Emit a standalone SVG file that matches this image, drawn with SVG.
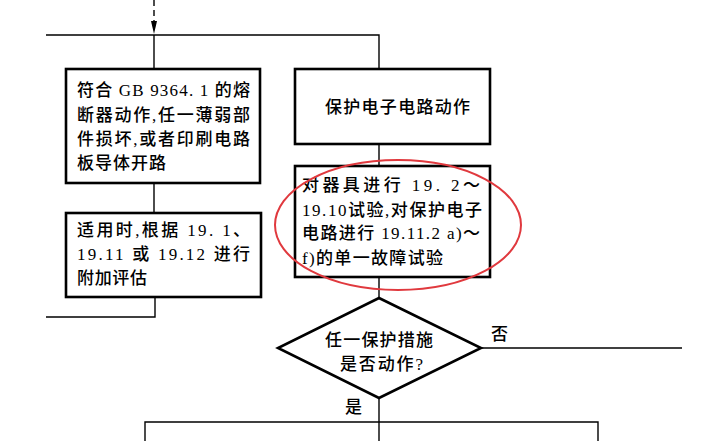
<svg xmlns="http://www.w3.org/2000/svg" width="712" height="441" viewBox="0 0 712 441">
<style>
.box{fill:#fff;stroke:#000;stroke-width:2.6}
.ln{fill:none;stroke:#000;stroke-width:1.4}
text{font-family:"Liberation Serif","Noto Sans CJK SC",serif;font-size:17px;font-weight:500;fill:#000}
</style>
<rect width="712" height="441" fill="#fff"/>
<g id="connectors">
<path class="ln" d="M154 0 V22" stroke-dasharray="6 4"/>
<polygon points="151,21 157,21 154,34" fill="#000"/>
<path class="ln" d="M46 35 H379 V69"/>
<path class="ln" d="M154 35 V69"/>
<path class="ln" d="M154 183 V213"/>
<path class="ln" d="M155 297 V317 H46"/>
<path class="ln" d="M379 144 V166"/>
<path class="ln" d="M379 277 V298"/>
<path class="ln" d="M481 348 H682"/>
<path class="ln" d="M379 398 V441"/>
<path class="ln" d="M145 441 V422 H598 V441"/>
<text x="491" y="340">否</text>
<text x="345" y="413">是</text>
</g>
<g id="fuse">
<rect class="box" x="66" y="69" width="194" height="114"/>
<text x="77" y="96" textLength="173" lengthAdjust="spacing">符合 GB 9364. 1 的熔</text>
<text x="77" y="121" textLength="173" lengthAdjust="spacing">断器动作,任一薄弱部</text>
<text x="77" y="145" textLength="173" lengthAdjust="spacing">件损坏,或者印刷电路</text>
<text x="77" y="169" textLength="89" lengthAdjust="spacing">板导体开路</text>
</g>
<g id="assess">
<rect class="box" x="66" y="213" width="195" height="84"/>
<text x="77" y="236" textLength="173" lengthAdjust="spacing">适用时,根据 19. 1、</text>
<text x="77" y="260" textLength="173" lengthAdjust="spacing">19.11 或 19.12 进行</text>
<text x="77" y="284" textLength="70" lengthAdjust="spacing">附加评估</text>
</g>
<g id="protect">
<rect class="box" x="295" y="69" width="195" height="75"/>
<text x="325" y="113" textLength="145" lengthAdjust="spacing">保护电子电路动作</text>
</g>
<g id="test">
<rect class="box" x="295" y="166" width="195" height="111"/>
<text x="302" y="191" textLength="178" lengthAdjust="spacing">对器具进行 19. 2～</text>
<text x="302" y="216" textLength="180" lengthAdjust="spacing">19.10试验,对保护电子</text>
<text x="302" y="239" textLength="178" lengthAdjust="spacing">电路进行 19.11.2 a)～</text>
<text x="302" y="264" textLength="141" lengthAdjust="spacing">f)的单一故障试验</text>
</g>
<g id="decision">
<polygon class="box" points="379,298 481,348 379,398 278,348"/>
<text x="325" y="346" textLength="108" lengthAdjust="spacing">任一保护措施</text>
<text x="340" y="370" textLength="83" lengthAdjust="spacing">是否动作?</text>
</g>
<ellipse cx="398" cy="225" rx="123" ry="65" fill="none" stroke="#e0393e" stroke-width="2"/>
</svg>
